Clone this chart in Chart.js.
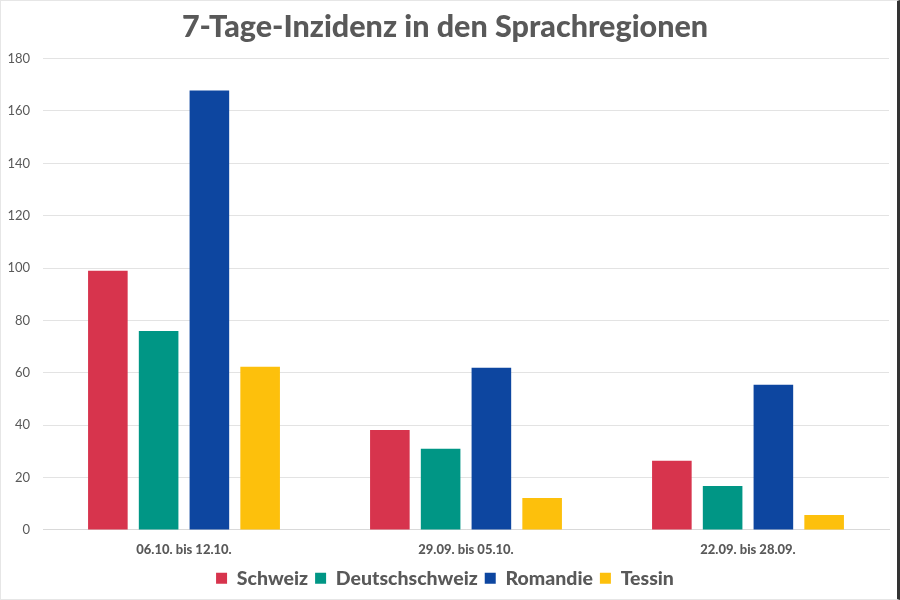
<!DOCTYPE html>
<html>
<head>
<meta charset="utf-8">
<script src="https://cdn.jsdelivr.net/npm/chart.js@4/dist/chart.umd.min.js"></script>
<style>
  html, body { margin: 0; padding: 0; background: #fff; }
  #wrap { width: 900px; height: 600px; box-sizing: border-box; border: 1px solid #e6e6e6; border-right: 3px solid #333; }
</style>
</head>
<body>
<div id="wrap"><canvas id="chart"></canvas></div>
<script>
// categories (weeks)
var weeks = ['06.10. bis 12.10.', '29.09. bis 05.10.', '22.09. bis 28.09.'];

// series values
var schweiz = [99, 38.2, 26.4];
var deutschschweiz = [76, 31, 16.8];
var romandie = [167.8, 61.9, 55.4];
var tessin = [62.3, 12.2, 5.7];

// y tick range
var yMax = 180;
var yStep = 20;

var grey = '#595959';
var heavy = '"Lato Black", "Lato Heavy", Lato, "Open Sans", sans-serif';
Chart.defaults.font.family = 'Lato, "Open Sans", sans-serif';

// building chart
var ctx = document.getElementById('chart').getContext('2d');
var chart = new Chart(ctx, {
    type: 'bar',
    data: {
        labels: weeks,
        datasets: [
            { label: 'Schweiz', data: schweiz, backgroundColor: '#d7344d' },
            { label: 'Deutschschweiz', data: deutschschweiz, backgroundColor: '#009685' },
            { label: 'Romandie', data: romandie, backgroundColor: '#0d46a0' },
            { label: 'Tessin', data: tessin, backgroundColor: '#fdc00c' }
        ]
    },
    options: {
        responsive: true,
        maintainAspectRatio: false,
        animation: false,
        categoryPercentage: 0.72,
        barPercentage: 0.78,
        layout: { padding: { left: 0, right: 8, top: 6, bottom: 1 } },
        plugins: {
            title: {
                display: true,
                text: '7-Tage-Inzidenz in den Sprachregionen',
                color: grey,
                font: { family: heavy, size: 30.5, weight: 900 },
                padding: { top: 2, bottom: 13 }
            },
            legend: {
                position: 'bottom',
                labels: {
                    color: grey,
                    boxWidth: 11,
                    boxHeight: 11,
                    padding: 7,
                    font: { family: heavy, size: 19.5, weight: 900 }
                }
            },
            tooltip: { enabled: false }
        },
        scales: {
            x: {
                grid: { display: false },
                border: { color: '#d9d9d9' },
                ticks: { color: grey, font: { family: heavy, size: 13, weight: 900 }, padding: 4 }
            },
            y: {
                min: 0,
                max: yMax,
                border: { display: false },
                grid: { color: '#e3e3e3', drawTicks: false },
                ticks: { stepSize: yStep, color: grey, font: { size: 13 }, padding: 13 },
                afterFit: function (scale) { scale.width = 42; }
            }
        }
    }
});
</script>
</body>
</html>
